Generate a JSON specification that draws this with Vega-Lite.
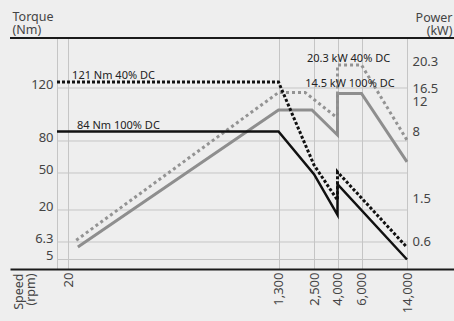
{
  "$schema": "https://vega.github.io/schema/vega-lite/v6.json",
  "width": 444,
  "height": 231,
  "autosize": "none",
  "padding": {"left": 10, "top": 38, "right": 0, "bottom": 52},
  "background": "#eeeeee",
  "config": {"view": {"stroke": null}, "font": "Noto Sans"},
  "datasets": {
    "grid": [{"torque": 120}, {"torque": 80}, {"torque": 50}, {"torque": 20}, {"torque": 6.3}, {"torque": 5}],
    "frame": [{"torque": 200}],
    "torque": [
      {"series": "40% DC", "i": 0, "rpm": 0, "nm": 121},
      {"series": "40% DC", "i": 1, "rpm": 1300, "nm": 121},
      {"series": "40% DC", "i": 2, "rpm": 2500, "nm": 57.5},
      {"series": "40% DC", "i": 3, "rpm": 4000, "nm": 28},
      {"series": "40% DC", "i": 4, "rpm": 4000, "nm": 51},
      {"series": "40% DC", "i": 5, "rpm": 14000, "nm": 5.9},
      {"series": "100% DC", "i": 0, "rpm": 0, "nm": 84},
      {"series": "100% DC", "i": 1, "rpm": 1300, "nm": 84},
      {"series": "100% DC", "i": 2, "rpm": 2500, "nm": 49},
      {"series": "100% DC", "i": 3, "rpm": 4000, "nm": 17.9},
      {"series": "100% DC", "i": 4, "rpm": 4000, "nm": 41},
      {"series": "100% DC", "i": 5, "rpm": 14000, "nm": 5}
    ],
    "power": [
      {"series": "40% DC", "i": 0, "rpm": 70, "kw": 0.7},
      {"series": "40% DC", "i": 1, "rpm": 1300, "kw": 16.5},
      {"series": "40% DC", "i": 2, "rpm": 2200, "kw": 16.5},
      {"series": "40% DC", "i": 3, "rpm": 4000, "kw": 10.3},
      {"series": "40% DC", "i": 4, "rpm": 4000, "kw": 20.3},
      {"series": "40% DC", "i": 5, "rpm": 6000, "kw": 20.3},
      {"series": "40% DC", "i": 6, "rpm": 14000, "kw": 7.5},
      {"series": "100% DC", "i": 0, "rpm": 80, "kw": 0.55},
      {"series": "100% DC", "i": 1, "rpm": 1300, "kw": 11.4},
      {"series": "100% DC", "i": 2, "rpm": 2430, "kw": 11.4},
      {"series": "100% DC", "i": 3, "rpm": 4000, "kw": 8},
      {"series": "100% DC", "i": 4, "rpm": 4000, "kw": 14.5},
      {"series": "100% DC", "i": 5, "rpm": 6000, "kw": 14.5},
      {"series": "100% DC", "i": 6, "rpm": 14000, "kw": 5.4}
    ],
    "torqueLabels": [
      {"rpm": 45, "nm": 121, "label": "121 Nm 40% DC"},
      {"rpm": 75, "nm": 84, "label": "84 Nm 100% DC"}
    ],
    "powerLabelPeak": [{"rpm": 2260, "kw": 20.3, "label": "20.3 kW 40% DC"}],
    "powerLabelCont": [{"rpm": 2200, "kw": 14.5, "label": "14.5 kW 100% DC"}]
  },
  "resolve": {"scale": {"y": "independent"}},
  "layer": [
    {
      "data": {"name": "grid"},
      "mark": {"type": "rule", "color": "#c5c5c5", "strokeWidth": 1},
      "encoding": {
        "y": {"field": "torque", "type": "quantitative", "axis": null,
              "scale": {"type": "linear", "domain": [0, 5, 6.3, 20, 50, 80, 84, 120, 121, 200], "range": [231, 221.5, 204, 172, 135, 103, 93.5, 50, 44, 0], "nice": false, "zero": false}},
        "x": {"datum": 0, "type": "quantitative",
              "scale": {"type": "linear", "domain": [-10, 0, 20, 1300, 2500, 4000, 6000, 14000, 20000], "range": [0, 47, 58, 268.5, 304, 327.5, 351.5, 397, 444], "nice": false, "zero": false}},
        "x2": {"datum": 14000}
      }
    },
    {
      "data": {"name": "frame"},
      "mark": {"type": "rule", "color": "#1a1a1a", "strokeWidth": 2},
      "encoding": {
        "y": {"field": "torque", "type": "quantitative", "axis": null,
              "scale": {"type": "linear", "domain": [0, 5, 6.3, 20, 50, 80, 84, 120, 121, 200], "range": [231, 221.5, 204, 172, 135, 103, 93.5, 50, 44, 0], "nice": false, "zero": false}},
        "x": {"datum": -10, "type": "quantitative",
              "scale": {"type": "linear", "domain": [-10, 0, 20, 1300, 2500, 4000, 6000, 14000, 20000], "range": [0, 47, 58, 268.5, 304, 327.5, 351.5, 397, 444], "nice": false, "zero": false}},
        "x2": {"datum": 20000}
      }
    },
    {
      "data": {"name": "power"},
      "transform": [{"filter": "datum.series == '100% DC'"}],
      "mark": {"type": "line", "color": "#8e8e8e", "strokeWidth": 3},
      "encoding": {
        "x": {"field": "rpm", "type": "quantitative",
              "scale": {"type": "linear", "domain": [-10, 0, 20, 1300, 2500, 4000, 6000, 14000, 20000], "range": [0, 47, 58, 268.5, 304, 327.5, 351.5, 397, 444], "nice": false, "zero": false},
              "axis": {
                "values": [0, 20, 1300, 2500, 4000, 6000, 14000],
                "labelExpr": "datum.value == 0 ? '' : format(datum.value, ',')",
                "grid": true, "gridColor": "#c5c5c5", "gridWidth": 1,
                "ticks": false, "domainColor": "#1a1a1a", "domainWidth": 2,
                "labelAngle": -90, "labelPadding": 3, "labelFontSize": 13, "labelColor": "#444444",
                "labelOverlap": false, "labelBound": false, "labelFlush": false,
                "title": ["Speed", "(rpm)"], "titleAngle": 270, "titleAlign": "right", "titleBaseline": "top",
                "titleX": 2, "titleY": 4, "titleFontSize": 12.5, "titleFontWeight": "normal",
                "titleColor": "#444444", "titleLineHeight": 12
              }},
        "y": {"field": "kw", "type": "quantitative",
              "scale": {"type": "linear", "domain": [0, 0.6, 1.5, 8, 11.4, 12, 14.5, 16.5, 20.3, 30], "range": [231, 207, 164, 97, 72, 67, 55.5, 54.5, 27, 0], "nice": false, "zero": false},
              "axis": {
                "orient": "right", "offset": -47, "values": [0.6, 1.5, 8, 12, 16.5, 20.3], "labelExpr": "'' + datum.value",
                "domain": false, "ticks": false, "grid": false,
                "labelPadding": 5, "labelBaseline": "alphabetic", "labelFontSize": 13, "labelColor": "#444444",
                "labelOverlap": false, "labelBound": false, "labelFlush": false,
                "title": ["Power", "(kW)"], "titleAngle": 0, "titleAlign": "right", "titleBaseline": "top",
                "titleX": 45, "titleY": -27, "titleFontSize": 12.5, "titleFontWeight": "normal",
                "titleColor": "#444444", "titleLineHeight": 13
              }},
        "order": {"field": "i"}
      }
    },
    {
      "data": {"name": "power"},
      "transform": [{"filter": "datum.series == '40% DC'"}],
      "mark": {"type": "line", "color": "#939393", "strokeWidth": 3, "strokeDash": [3, 3]},
      "encoding": {
        "x": {"field": "rpm", "type": "quantitative",
              "scale": {"type": "linear", "domain": [-10, 0, 20, 1300, 2500, 4000, 6000, 14000, 20000], "range": [0, 47, 58, 268.5, 304, 327.5, 351.5, 397, 444], "nice": false, "zero": false}},
        "y": {"field": "kw", "type": "quantitative", "axis": null,
              "scale": {"type": "linear", "domain": [0, 0.6, 1.5, 8, 11.4, 12, 14.5, 16.5, 20.3, 30], "range": [231, 207, 164, 97, 72, 67, 55.5, 54.5, 27, 0], "nice": false, "zero": false}},
        "order": {"field": "i"}
      }
    },
    {
      "data": {"name": "torque"},
      "transform": [{"filter": "datum.series == '100% DC'"}],
      "mark": {"type": "line", "color": "#111111", "strokeWidth": 2.5},
      "encoding": {
        "x": {"field": "rpm", "type": "quantitative",
              "scale": {"type": "linear", "domain": [-10, 0, 20, 1300, 2500, 4000, 6000, 14000, 20000], "range": [0, 47, 58, 268.5, 304, 327.5, 351.5, 397, 444], "nice": false, "zero": false}},
        "y": {"field": "nm", "type": "quantitative",
              "scale": {"type": "linear", "domain": [0, 5, 6.3, 20, 50, 80, 84, 120, 121, 200], "range": [231, 221.5, 204, 172, 135, 103, 93.5, 50, 44, 0], "nice": false, "zero": false},
              "axis": {
                "orient": "left", "offset": -47, "values": [5, 6.3, 20, 50, 80, 120], "labelExpr": "'' + datum.value",
                "domain": false, "ticks": false, "grid": false,
                "labelPadding": 4, "labelBaseline": "alphabetic", "labelFontSize": 13, "labelColor": "#444444",
                "labelOverlap": false, "labelBound": false, "labelFlush": false,
                "title": ["Torque", "(Nm)"], "titleAngle": 0, "titleAlign": "left", "titleBaseline": "top",
                "titleX": -45, "titleY": -28, "titleFontSize": 12.5, "titleFontWeight": "normal",
                "titleColor": "#444444", "titleLineHeight": 13
              }},
        "order": {"field": "i"}
      }
    },
    {
      "data": {"name": "torque"},
      "transform": [{"filter": "datum.series == '40% DC'"}],
      "mark": {"type": "line", "color": "#111111", "strokeWidth": 3, "strokeDash": [3, 2]},
      "encoding": {
        "x": {"field": "rpm", "type": "quantitative",
              "scale": {"type": "linear", "domain": [-10, 0, 20, 1300, 2500, 4000, 6000, 14000, 20000], "range": [0, 47, 58, 268.5, 304, 327.5, 351.5, 397, 444], "nice": false, "zero": false}},
        "y": {"field": "nm", "type": "quantitative", "axis": null,
              "scale": {"type": "linear", "domain": [0, 5, 6.3, 20, 50, 80, 84, 120, 121, 200], "range": [231, 221.5, 204, 172, 135, 103, 93.5, 50, 44, 0], "nice": false, "zero": false}},
        "order": {"field": "i"}
      }
    },
    {
      "data": {"name": "torqueLabels"},
      "mark": {"type": "text", "align": "left", "baseline": "alphabetic", "dy": -3, "fontSize": 11, "color": "#222222"},
      "encoding": {
        "x": {"field": "rpm", "type": "quantitative",
              "scale": {"type": "linear", "domain": [-10, 0, 20, 1300, 2500, 4000, 6000, 14000, 20000], "range": [0, 47, 58, 268.5, 304, 327.5, 351.5, 397, 444], "nice": false, "zero": false}},
        "y": {"field": "nm", "type": "quantitative", "axis": null,
              "scale": {"type": "linear", "domain": [0, 5, 6.3, 20, 50, 80, 84, 120, 121, 200], "range": [231, 221.5, 204, 172, 135, 103, 93.5, 50, 44, 0], "nice": false, "zero": false}},
        "text": {"field": "label"}
      }
    },
    {
      "data": {"name": "powerLabelPeak"},
      "mark": {"type": "text", "align": "left", "baseline": "alphabetic", "dy": -3, "fontSize": 11, "color": "#222222"},
      "encoding": {
        "x": {"field": "rpm", "type": "quantitative",
              "scale": {"type": "linear", "domain": [-10, 0, 20, 1300, 2500, 4000, 6000, 14000, 20000], "range": [0, 47, 58, 268.5, 304, 327.5, 351.5, 397, 444], "nice": false, "zero": false}},
        "y": {"field": "kw", "type": "quantitative", "axis": null,
              "scale": {"type": "linear", "domain": [0, 0.6, 1.5, 8, 11.4, 12, 14.5, 16.5, 20.3, 30], "range": [231, 207, 164, 97, 72, 67, 55.5, 54.5, 27, 0], "nice": false, "zero": false}},
        "text": {"field": "label"}
      }
    },
    {
      "data": {"name": "powerLabelCont"},
      "mark": {"type": "text", "align": "left", "baseline": "alphabetic", "dy": -7, "fontSize": 11, "color": "#222222"},
      "encoding": {
        "x": {"field": "rpm", "type": "quantitative",
              "scale": {"type": "linear", "domain": [-10, 0, 20, 1300, 2500, 4000, 6000, 14000, 20000], "range": [0, 47, 58, 268.5, 304, 327.5, 351.5, 397, 444], "nice": false, "zero": false}},
        "y": {"field": "kw", "type": "quantitative", "axis": null,
              "scale": {"type": "linear", "domain": [0, 0.6, 1.5, 8, 11.4, 12, 14.5, 16.5, 20.3, 30], "range": [231, 207, 164, 97, 72, 67, 55.5, 54.5, 27, 0], "nice": false, "zero": false}},
        "text": {"field": "label"}
      }
    }
  ]
}
